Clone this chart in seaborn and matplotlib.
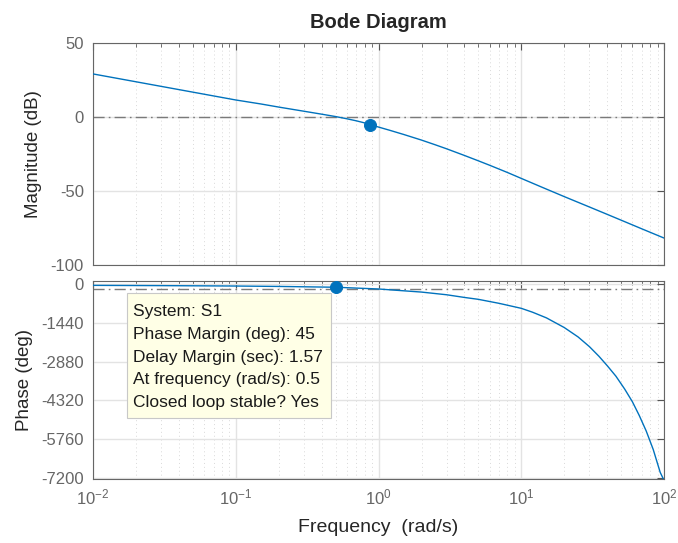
import matplotlib
matplotlib.use('Agg')
import numpy as np
import pandas as pd
import matplotlib.pyplot as plt
import seaborn as sns
from matplotlib.patches import Rectangle

# ---- values ---------------------------------------------------------------
freq_mag = [0.01, 0.02, 0.03, 0.05, 0.1, 0.15, 0.2, 0.3, 0.4, 0.5, 0.6, 0.7, 0.8, 0.875, 1, 1.2, 1.5,
            2, 2.5, 3, 4, 5, 6, 8, 10, 14, 20, 30, 40, 50, 70, 100]
mag_db = [29.1, 23.8, 20.7, 16.8, 11.5, 8.8, 6.7, 3.9, 1.9, 0.3, -1.2, -2.6, -4.0, -5.1, -6.8, -9.0,
          -11.8, -15.6, -18.8, -21.5, -26.0, -29.6, -32.6, -37.5, -41.5, -47.5, -53.8, -60.8,
          -65.8, -69.7, -75.6, -81.8]

freq_phase = [0.01, 0.03, 0.1, 0.2, 0.5, 1, 2, 3, 4, 5, 7, 10, 12, 15, 20, 25, 30, 35, 40, 46, 53,
              60, 67, 75, 84, 94, 100]
phase_deg = [-40, -50, -65, -80, -110, -175, -290, -390, -490, -560, -710, -895, -1040, -1250,
             -1610, -1960, -2320, -2680, -3030, -3420, -3900, -4370, -4880, -5460, -6150, -7000,
             -7300]

marker_freq_mag, marker_mag = [0.875], [-5.1]
marker_freq_phase, marker_phase = [0.5], [-110]
mag_ref, phase_ref = 0, -180

mag_ticks = [-100, -50, 0, 50]
phase_ticks = [-7200, -5760, -4320, -2880, -1440, 0]
tip_lines = ['System: S1', 'Phase Margin (deg): 45', 'Delay Margin (sec): 1.57',
             'At frequency (rad/s): 0.5', 'Closed loop stable? Yes']

# ---- style ----------------------------------------------------------------
sns.set_style('white')
plt.rcParams['font.family'] = ['Liberation Sans', 'DejaVu Sans']
plt.rcParams['mathtext.fontset'] = 'custom'
plt.rcParams['mathtext.rm'] = 'Liberation Sans'
plt.rcParams['mathtext.default'] = 'regular'
plt.rcParams['axes.unicode_minus'] = False

blue = '#0072BD'
tick_grey = '#666666'
label_grey = '#262626'

fig = plt.figure(figsize=(6.78, 5.43), dpi=100)
ax_mag = fig.add_axes([0.1372, 0.5120, 0.8422, 0.4088])
ax_ph = fig.add_axes([0.1372, 0.1184, 0.8422, 0.3632])

mag = pd.DataFrame({'freq': freq_mag, 'mag': mag_db})
phase = pd.DataFrame({'freq': freq_phase, 'phase': phase_deg})

sns.lineplot(data=mag, x='freq', y='mag', ax=ax_mag, color=blue, lw=1.0, zorder=3)
sns.lineplot(data=phase, x='freq', y='phase', ax=ax_ph, color=blue, lw=1.0, zorder=3)
ax_mag.axhline(mag_ref, color='#7a7a7a', lw=1.0, ls=(0, (8, 3, 1.2, 3)), zorder=2)
ax_ph.axhline(phase_ref, color='#7a7a7a', lw=1.0, ls=(0, (8, 3, 1.2, 3)), zorder=2)
sns.scatterplot(x=marker_freq_mag, y=marker_mag, ax=ax_mag, color=blue, s=75, edgecolor=blue, zorder=4)
sns.scatterplot(x=marker_freq_phase, y=marker_phase, ax=ax_ph, color=blue, s=75, edgecolor=blue, zorder=4)

for ax in (ax_mag, ax_ph):
    ax.set_xscale('log')
    ax.set_xlim(1e-2, 1e2)
    ax.set_axisbelow(True)
    ax.grid(True, which='major', color='#e3e3e3', lw=1.0)
    ax.xaxis.grid(True, which='minor', color='#d9d9d9', ls=(0, (1, 3)), lw=0.7)
    ax.tick_params(which='both', direction='in', top=True, right=True, color='#555555',
                   labelcolor=tick_grey, labelsize=12)
    ax.tick_params(which='major', length=5, width=0.8, pad=6.5)
    ax.tick_params(which='minor', length=3, width=0.6)
    for spine in ax.spines.values():
        spine.set_color('#666666')
        spine.set_linewidth(0.8)

ax_mag.set_ylim(-100, 50)
ax_mag.set_yticks(mag_ticks)
ax_mag.tick_params(labelbottom=False)
ax_mag.set_xlabel('')
ax_mag.set_ylabel('Magnitude (dB)', fontsize=13.5, color=label_grey, labelpad=6)
ax_mag.set_title('Bode Diagram', fontsize=14.5, weight='bold', pad=11)

ax_ph.set_ylim(-7237, 104)
ax_ph.set_yticks(phase_ticks)
ax_ph.set_ylabel('Phase (deg)', fontsize=13.5, color=label_grey, labelpad=6)
ax_ph.set_xlabel('Frequency  (rad/s)', fontsize=14, color=label_grey, labelpad=8)

# data tip box
ax_ph.add_patch(Rectangle((0.060, 0.3093), 0.3563, 0.6339, transform=ax_ph.transAxes,
                          facecolor='#FFFFE6', edgecolor='#c8c8c8', lw=0.8, zorder=5))
for i, line in enumerate(tip_lines):
    ax_ph.text(0.0706, 0.8469 - i * 0.1151, line, transform=ax_ph.transAxes, fontsize=12.5,
               color='#1a1a1a', va='center', ha='left', zorder=6)

plt.savefig('out.png', dpi=100)
plt.close()
